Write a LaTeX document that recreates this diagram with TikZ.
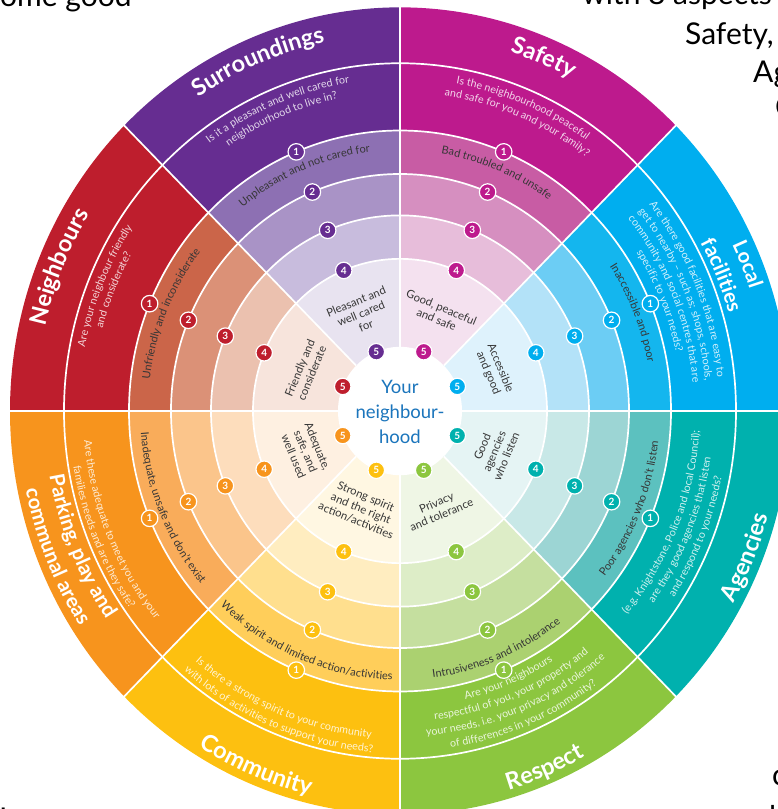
\documentclass[tikz,border=0pt]{standalone}
\usepackage{fontspec}
\setmainfont{Lato}
\usetikzlibrary{decorations.text}

% sector colours: M main, A ring1, B ring2, C ring3, D ring4
\definecolor{surM}{HTML}{662D91}\definecolor{surA}{HTML}{8D70B3}\definecolor{surB}{HTML}{A993C6}\definecolor{surC}{HTML}{C8BCDD}\definecolor{surD}{HTML}{E8E3F0}
\definecolor{safM}{HTML}{BD1A8D}\definecolor{safA}{HTML}{C85CA4}\definecolor{safB}{HTML}{D68FC0}\definecolor{safC}{HTML}{E7BDDA}\definecolor{safD}{HTML}{F4E1EF}
\definecolor{locM}{HTML}{00AEEF}\definecolor{locA}{HTML}{14B6EE}\definecolor{locB}{HTML}{6CCDF4}\definecolor{locC}{HTML}{B3E2F8}\definecolor{locD}{HTML}{DEF2FC}
\definecolor{ageM}{HTML}{00B1AE}\definecolor{ageA}{HTML}{5CC1BF}\definecolor{ageB}{HTML}{9CD5D4}\definecolor{ageC}{HTML}{C8E8E7}\definecolor{ageD}{HTML}{E5F4F4}
\definecolor{resM}{HTML}{8CC63F}\definecolor{resA}{HTML}{ABD170}\definecolor{resB}{HTML}{C5DF9F}\definecolor{resC}{HTML}{DDEDC7}\definecolor{resD}{HTML}{EFF6E5}
\definecolor{comM}{HTML}{FDC010}\definecolor{comA}{HTML}{FFCE5A}\definecolor{comB}{HTML}{FFDF8E}\definecolor{comC}{HTML}{FFEDC0}\definecolor{comD}{HTML}{FFF7E2}
\definecolor{parM}{HTML}{F7941D}\definecolor{parA}{HTML}{F9AC5A}\definecolor{parB}{HTML}{FBC58B}\definecolor{parC}{HTML}{FDDDBC}\definecolor{parD}{HTML}{FEF0E1}
\definecolor{neiM}{HTML}{BE1E2D}\definecolor{neiA}{HTML}{CB6549}\definecolor{neiB}{HTML}{DB9177}\definecolor{neiC}{HTML}{EBC1AF}\definecolor{neiD}{HTML}{F7E4DC}
\definecolor{dtext}{HTML}{363636}
\definecolor{nbblue}{HTML}{1B75BC}
\colorlet{surQ}{white!82!surM}\colorlet{safQ}{white!82!safM}\colorlet{locQ}{white!82!locM}\colorlet{ageQ}{white!82!ageM}
\colorlet{resQ}{white!82!resM}\colorlet{comQ}{white!82!comM}\colorlet{parQ}{white!82!parM}\colorlet{neiQ}{white!82!neiM}

\newcommand\tf{\color{white}\bfseries\fontsize{23.5}{24}\selectfont}
\newcommand\tfs{\color{white}\bfseries\fontsize{20.5}{21}\selectfont}
\newcommand\qf{\fontsize{10.7}{12}\selectfont}
\newcommand\rf{\color{dtext}\fontsize{11}{12}\selectfont}
% #1 mid angle, #2 baseline radius, #3 1 = upper half (clockwise), -1 = lower half, #4 text
\newcommand\arctxt[4]{%
  \path[decorate,decoration={text along path,text align=center,text={#4}}]
    ({#1+#3*40}:#2) arc[start angle={#1+#3*40},end angle={#1-#3*40},radius=#2];}

\begin{document}
\begin{tikzpicture}[x=1pt,y=1.035pt,
  sep/.style={white,line width=1.7pt},
  badge/.style={circle,draw=white,line width=1.2pt,text=white,font=\bfseries\fontsize{10}{10}\selectfont,inner sep=0pt,minimum size=16.5pt},
  inner/.style={align=center,text=dtext,font=\fontsize{11.3}{13}\selectfont,inner sep=0pt},
  slide/.style={anchor=base west,inner sep=0pt,font=\fontsize{30}{30}\selectfont,text=black}]
\useasboundingbox (-400pt,-398pt) rectangle (378pt,411pt);
\clip (-400pt,-398pt) rectangle (378pt,411pt);

% slide text behind the wheel
\node[slide] (s1) at (-400pt,404pt) {ome good};
\node[slide] (s2) at (182pt,406pt) {with 8 aspects of};
\node[slide] (s3) at (285pt,366pt) {Safety,};
\node[slide] (s4) at (353pt,328pt) {Agencies};
\node[slide] (s5) at (375pt,293pt) {Community};
\node[slide] (s6) at (372pt,-374pt) {co};
\node[slide] (s7) at (369pt,-416pt) {l};
\node[slide] (s8) at (-401pt,-418pt) {I};

% sectors
\foreach \a/\n in {45/saf,90/sur,135/nei,180/par,225/com,270/res,315/age,0/loc}{
  \foreach \r/\s in {390/M,271/A,229/B,189/C,147/D}{
    \fill[fill=\n\s] (0,0) -- (\a:\r) arc[start angle=\a,end angle=\a+45,radius=\r] -- cycle;
  }
}
\fill[white] (0,0) circle[radius=62];
\foreach \r in {147,189,229,271,336} \draw[sep] (0,0) circle[radius=\r];
\foreach \a in {0,45,...,315} \draw[sep] (\a:62) -- (\a:395);

% badges
\foreach \a/\n in {67.5/saf,112.5/sur,157.5/nei,202.5/par,247.5/com,292.5/res,337.5/age,22.5/loc}{
  \foreach \r/\k in {271/1,229/2,189/3,147/4,62/5}{
    \node[badge,fill=\n M] (\n\k) at (\a:\r) {\k};
  }
}

% centre
\node[align=center,text=nbblue,font=\fontsize{18.5}{25}\selectfont,inner sep=0pt] (centre) at (0,-1) {Your\\neighbour-\\hood};

% titles
\arctxt{67.5}{364}{1}{|\tf|Safety}
\arctxt{112.5}{364}{1}{|\tf|Surroundings}
\arctxt{157.5}{364}{1}{|\tf|Neighbours}
\arctxt{22.5}{369}{1}{|\tfs|Local}
\arctxt{22.5}{342}{1}{|\tfs|facilities}
\arctxt{202.5}{356}{-1}{|\tfs|Parking, play and}
\arctxt{202.5}{382}{-1}{|\tfs|communal areas}
\arctxt{247.5}{382}{-1}{|\tf|Community}
\arctxt{292.5}{382}{-1}{|\tf|Respect}
\arctxt{337.5}{382}{-1}{|\tf|Agencies}

% questions
\arctxt{67.5}{321}{1}{|\color{safQ}\qf|Is the neighbourhood peaceful}
\arctxt{67.5}{308}{1}{|\color{safQ}\qf|and safe for you and your family?}
\arctxt{112.5}{321}{1}{|\color{surQ}\qf|Is it a pleasant and well cared for}
\arctxt{112.5}{308}{1}{|\color{surQ}\qf|neighbourhood to live in?}
\arctxt{157.5}{321}{1}{|\color{neiQ}\qf|Are your neighbour friendly}
\arctxt{157.5}{308}{1}{|\color{neiQ}\qf|and considerate?}
\arctxt{22.5}{319}{1}{|\color{locQ}\qf|Are there good facilities that are easy to}
\arctxt{22.5}{306.5}{1}{|\color{locQ}\qf|get to nearby – such as; shops, schools,}
\arctxt{22.5}{294}{1}{|\color{locQ}\qf|community and social centres that are}
\arctxt{22.5}{281.5}{1}{|\color{locQ}\qf|specific to your needs?}
\arctxt{337.5}{300}{-1}{|\color{ageQ}\qf|(e.g. Knightstone, Police and local Council);}
\arctxt{337.5}{314}{-1}{|\color{ageQ}\qf|are they good agencies that listen}
\arctxt{337.5}{328}{-1}{|\color{ageQ}\qf|and respond to your needs?}
\arctxt{292.5}{286}{-1}{|\color{resQ}\qf|Are your neighbours}
\arctxt{292.5}{300.5}{-1}{|\color{resQ}\qf|respectful of you, your property and}
\arctxt{292.5}{315}{-1}{|\color{resQ}\qf|your needs, i.e. your privacy and tolerance}
\arctxt{292.5}{329.5}{-1}{|\color{resQ}\qf|of differences in your community?}
\arctxt{247.5}{317}{-1}{|\color{comQ}\qf|Is there a strong spirit to your community}
\arctxt{247.5}{331}{-1}{|\color{comQ}\qf|with lots of activities to support your needs?}
\arctxt{202.5}{317}{-1}{|\color{parQ}\qf|Are these adequate to meet you and your}
\arctxt{202.5}{331}{-1}{|\color{parQ}\qf|families needs and are they safe?}

% level 1 descriptions
\arctxt{67.5}{252}{1}{|\rf|Bad troubled and unsafe}
\arctxt{112.5}{252}{1}{|\rf|Unpleasant and not cared for}
\arctxt{157.5}{252}{1}{|\rf|Unfriendly and inconsiderate}
\arctxt{22.5}{252}{1}{|\rf|Inaccessible and poor}
\arctxt{202.5}{260}{-1}{|\rf|Inadequate, unsafe and don't exist}
\arctxt{247.5}{260}{-1}{|\rf|Weak spirit and limited action/activities}
\arctxt{292.5}{260}{-1}{|\rf|Intrusiveness and intolerance}
\arctxt{337.5}{260}{-1}{|\rf|Poor agencies who don't listen}

% level 5 descriptions
\node[inner,rotate=-22.5] (saf6) at (67.5:102) {Good, peaceful\\and safe};
\node[inner,rotate=22.5] (sur6) at (112.5:102) {Pleasant and\\well cared\\for};
\node[inner,rotate=67.5] (nei6) at (157.5:102) {Friendly and\\considerate};
\node[inner,rotate=-67.5] (loc6) at (22.5:102) {Accessible\\and good};
\node[inner,rotate=-67.5] (par6) at (202.5:102) {Adequate,\\safe, and\\well used};
\node[inner,rotate=-22.5] (com6) at (247.5:102) {Strong spirit\\and the right\\action/activities};
\node[inner,rotate=22.5] (res6) at (292.5:102) {Privacy\\and tolerance};
\node[inner,rotate=67.5] (age6) at (337.5:102) {Good\\agencies\\who listen};
\end{tikzpicture}
\end{document}
